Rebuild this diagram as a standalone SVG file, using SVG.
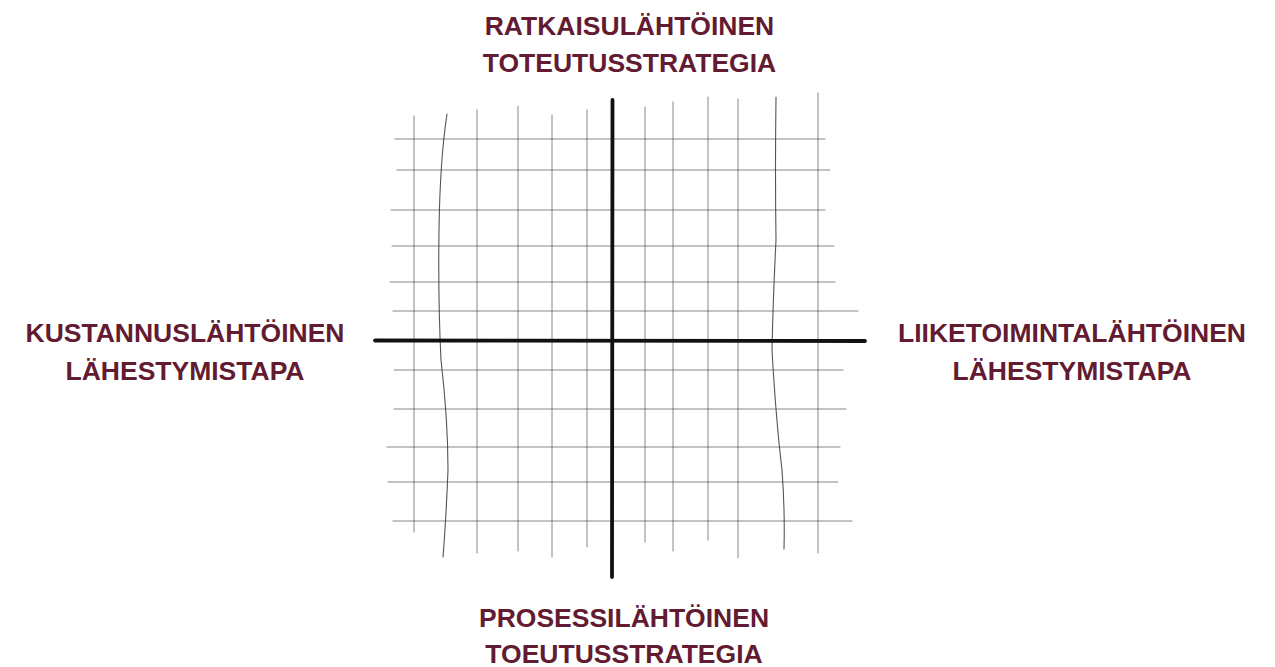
<svg xmlns="http://www.w3.org/2000/svg" width="1275" height="667" viewBox="0 0 1275 667">
<style>
.lbl{font-family:"Liberation Sans",Arial,sans-serif;font-weight:bold;font-size:26.5px;fill:#631b31;text-anchor:middle}
.g{stroke:#3a3a3a;stroke-width:1;stroke-opacity:0.6;fill:none;stroke-linecap:round}
.gd{stroke:#2a2a2a;stroke-width:1.1;stroke-opacity:0.8;fill:none;stroke-linecap:round}
.ax{stroke:#111;stroke-width:3.8;fill:none;stroke-linecap:round}
</style>
<rect width="1275" height="667" fill="#fff"/>
<g id="grid">
<line class="g" x1="395" y1="139" x2="825" y2="139"/>
<line class="g" x1="397" y1="170" x2="830" y2="170"/>
<line class="g" x1="391" y1="210" x2="825" y2="210"/>
<line class="g" x1="392" y1="246" x2="834" y2="246"/>
<line class="g" x1="390" y1="282" x2="835" y2="282"/>
<line class="g" x1="393" y1="311" x2="858" y2="311"/>
<line class="g" x1="394" y1="370" x2="843" y2="370"/>
<line class="g" x1="394" y1="409" x2="846" y2="409"/>
<line class="g" x1="387" y1="447" x2="840" y2="447"/>
<line class="g" x1="388" y1="482" x2="838" y2="482"/>
<line class="g" x1="393" y1="521" x2="852" y2="521"/>
<line class="g" x1="414" y1="116" x2="414" y2="532"/>
<line class="g" x1="477" y1="110" x2="477" y2="553"/>
<line class="g" x1="518" y1="106" x2="518" y2="551"/>
<line class="g" x1="552" y1="115" x2="552" y2="557"/>
<line class="g" x1="587" y1="110" x2="587" y2="547"/>
<line class="g" x1="645" y1="107" x2="645" y2="542"/>
<line class="g" x1="673" y1="102" x2="673" y2="551"/>
<line class="g" x1="708" y1="97" x2="708" y2="540"/>
<line class="g" x1="738" y1="99" x2="738" y2="558"/>
<line class="g" x1="818" y1="93" x2="818" y2="553"/>
<path class="gd" d="M447 114 Q440 160 439 230 Q438 300 441 360 Q448 420 448 470 Q446 520 443 557"/>
<path class="gd" d="M776 97 Q775 170 776 240 Q773 300 772 350 Q776 420 782 470 Q785 510 784 549"/>
</g>
<g id="axes">
<path class="ax" d="M375 340.5 L865 341"/>
<path class="ax" d="M612.5 100 L612 577"/>
</g>
<g id="top-label"><text class="lbl" x="629.5" y="35">RATKAISULÄHTÖINEN</text><text class="lbl" x="629.5" y="72">TOTEUTUSSTRATEGIA</text></g>
<g id="left-label"><text class="lbl" x="185" y="342">KUSTANNUSLÄHTÖINEN</text><text class="lbl" x="185" y="380">LÄHESTYMISTAPA</text></g>
<g id="right-label"><text class="lbl" x="1072" y="342">LIIKETOIMINTALÄHTÖINEN</text><text class="lbl" x="1072" y="380">LÄHESTYMISTAPA</text></g>
<g id="bottom-label"><text class="lbl" x="624" y="627">PROSESSILÄHTÖINEN</text><text class="lbl" x="624" y="663">TOEUTUSSTRATEGIA</text></g>
</svg>
